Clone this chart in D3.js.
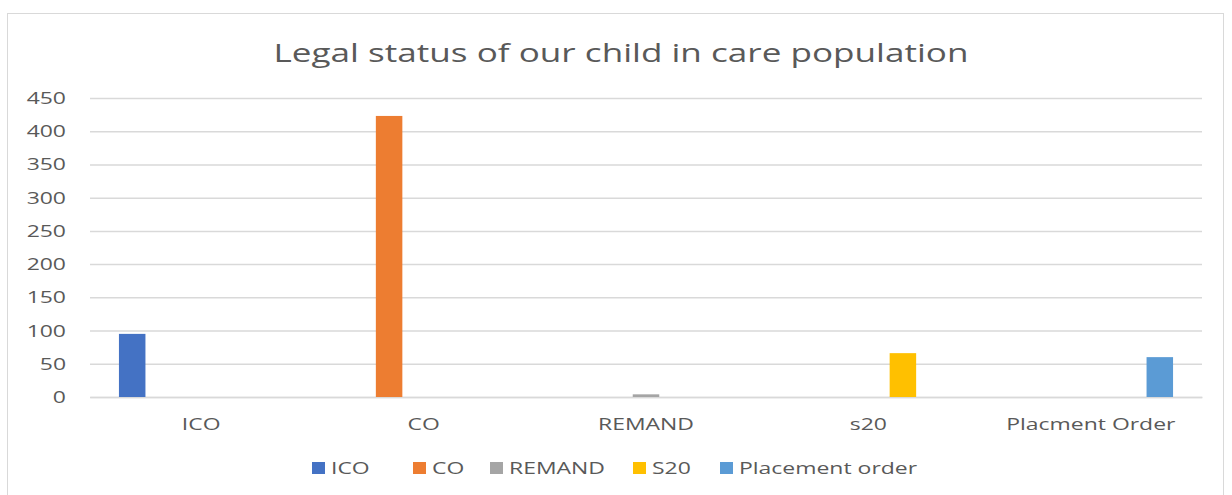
<!DOCTYPE html>
<html><head><meta charset="utf-8">
<script src="https://cdn.jsdelivr.net/npm/d3@7"></script>
<style>body{margin:0;background:#fff}svg{display:block}text{font-family:"Open Sans",sans-serif}</style>
</head><body>
<svg id="c" width="1232" height="495"></svg>
<script>
const categories = ["ICO","CO","REMAND","s20","Placment Order"];
const series = ["ICO","CO","REMAND","S20","Placement order"];
const colors = ["#4472C4","#ED7D31","#A5A5A5","#FFC000","#5B9BD5"];
// values[seriesIndex][categoryIndex]
const valICO = [95,0,0,0,0];
const valCO = [0,423,0,0,0];
const valREMAND = [0,0,4,0,0];
const valS20 = [0,0,0,66,0];
const valPlacement = [0,0,0,0,60];
const yTicks = [0,50,100,150,200,250,300,350,400,450];
const title = "Legal status of our child in care population";

const values = [valICO,valCO,valREMAND,valS20,valPlacement];
const STRETCH = 1.35;
function stretch(sel){
  sel.each(function(){
    const w = this.getComputedTextLength();
    d3.select(this).attr("textLength", w*STRETCH).attr("lengthAdjust","spacingAndGlyphs");
  });
}
const svg = d3.select("#c");
svg.append("rect").attr("x",7.5).attr("y",13.5).attr("width",1216).attr("height",490)
  .attr("fill","#fff").attr("stroke","#d9d9d9");

const L=90,R=1202,T=98,B=397;
const y = d3.scaleLinear().domain([0,450]).range([B,T]);
const x0 = d3.scaleBand().domain(categories).range([L,R]).padding(0);
const x1 = d3.scaleBand().domain(series).range([0,x0.bandwidth()]).paddingInner(0.232).paddingOuter(0.839);

svg.append("text").attr("x",621).attr("y",62).attr("text-anchor","middle")
  .attr("font-size",26).attr("fill","#595959").text(title).call(stretch);

const yAxis = svg.append("g").attr("transform",`translate(${L},0)`)
  .call(d3.axisLeft(y).tickValues(yTicks).tickSize(-(R-L)).tickPadding(24));
yAxis.select(".domain").remove();
yAxis.selectAll("line").attr("stroke","#d9d9d9").attr("stroke-width",1.5);
yAxis.selectAll("text").attr("font-size",17).attr("fill","#595959").attr("font-family","Open Sans").call(stretch);

const xAxis = svg.append("g").attr("transform",`translate(0,${B})`)
  .call(d3.axisBottom(x0).tickSize(0).tickPadding(21));
xAxis.select(".domain").attr("stroke","#d9d9d9").attr("stroke-width",1.5);
xAxis.selectAll("text").attr("font-size",17).attr("fill","#595959").attr("font-family","Open Sans").call(stretch);

series.forEach((s,si)=>{
  svg.append("g").selectAll("rect").data(categories.map((c,ci)=>({c,v:values[si][ci]})).filter(d=>d.v>0))
    .join("rect")
    .attr("x",d=>x0(d.c)+x1(s)).attr("width",x1.bandwidth())
    .attr("y",d=>y(d.v)).attr("height",d=>B-y(d.v))
    .attr("fill",colors[si]);
});

const legX = [312,413,490,633,720];
const lg = svg.append("g");
series.forEach((s,i)=>{
  lg.append("rect").attr("x",legX[i]).attr("y",462).attr("width",13).attr("height",12).attr("fill",colors[i]);
  lg.append("text").attr("x",legX[i]+19).attr("y",474).attr("font-size",17).attr("fill","#595959").text(s).call(stretch);
});
</script>
</body></html>
